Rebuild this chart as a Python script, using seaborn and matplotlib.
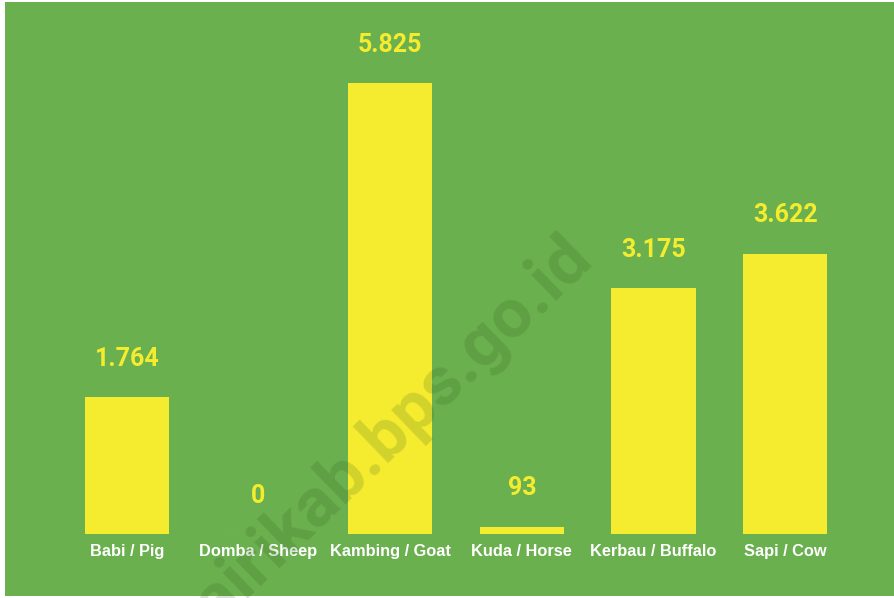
import matplotlib
matplotlib.use("Agg")
import matplotlib.pyplot as plt
import seaborn as sns
import pandas as pd

categories = ["Babi / Pig", "Domba / Sheep", "Kambing / Goat", "Kuda / Horse",
              "Kerbau / Buffalo", "Sapi / Cow"]
values = [1764, 0, 5825, 93, 3175, 3622]

GREEN = "#6ab04e"
YELLOW = "#f6ec2f"

df = pd.DataFrame({"animal": categories, "count": values})

sns.set_theme(style="white")
plt.rcParams["font.family"] = ["Liberation Sans", "DejaVu Sans"]

fig = plt.figure(figsize=(8.95, 5.98), dpi=100)
fig.patch.set_facecolor("white")
# green panel
bg = plt.Rectangle((5 / 895, 2 / 598), 890 / 895, 594 / 598,
                   transform=fig.transFigure, facecolor=GREEN,
                   edgecolor="none", zorder=-10)
fig.patches.append(bg)

ax = fig.add_axes([61 / 895, (598 - 534) / 598, 790 / 895, 524 / 598])
ax.set_facecolor("none")
ax.patch.set_alpha(0)
sns.barplot(data=df, x="animal", y="count", color=YELLOW, width=0.64,
            saturation=1, ax=ax, zorder=2)

for p in ax.patches:
    p.set_edgecolor("none")
    if p.get_height() == 0:
        p.set_edgecolor("#b9c23a")
        p.set_linewidth(0.8)

ax.set_xlim(-0.5, len(categories) - 0.5)
ax.set_ylim(0, 5825 * 524 / 451)

def fmt(v):
    return f"{v:,}".replace(",", ".")

for i, v in enumerate(values):
    ax.annotate(fmt(v), (i, v), xytext=(0, 19), textcoords="offset points",
                ha="center", va="bottom", color=YELLOW, fontsize=18,
                fontweight="bold", family=["Roboto", "DejaVu Sans"], zorder=3)

ax.set_xlabel("")
ax.set_ylabel("")
ax.set_yticks([])
ax.tick_params(axis="x", length=0, pad=7.5)
for lab in ax.get_xticklabels():
    lab.set_color("white")
    lab.set_fontweight("bold")
    lab.set_fontsize(11.8)
for s in ax.spines.values():
    s.set_visible(False)

# watermark
fig.text(386 / 895, 1 - 440 / 598, "tairikab.bps.go.id", rotation=44,
         ha="center", va="center", fontsize=50, fontweight="bold",
         color="#2f5a1e", alpha=0.18, family=["Roboto", "DejaVu Sans"],
         zorder=10)

fig.savefig("out.png", dpi=100, facecolor="white")
